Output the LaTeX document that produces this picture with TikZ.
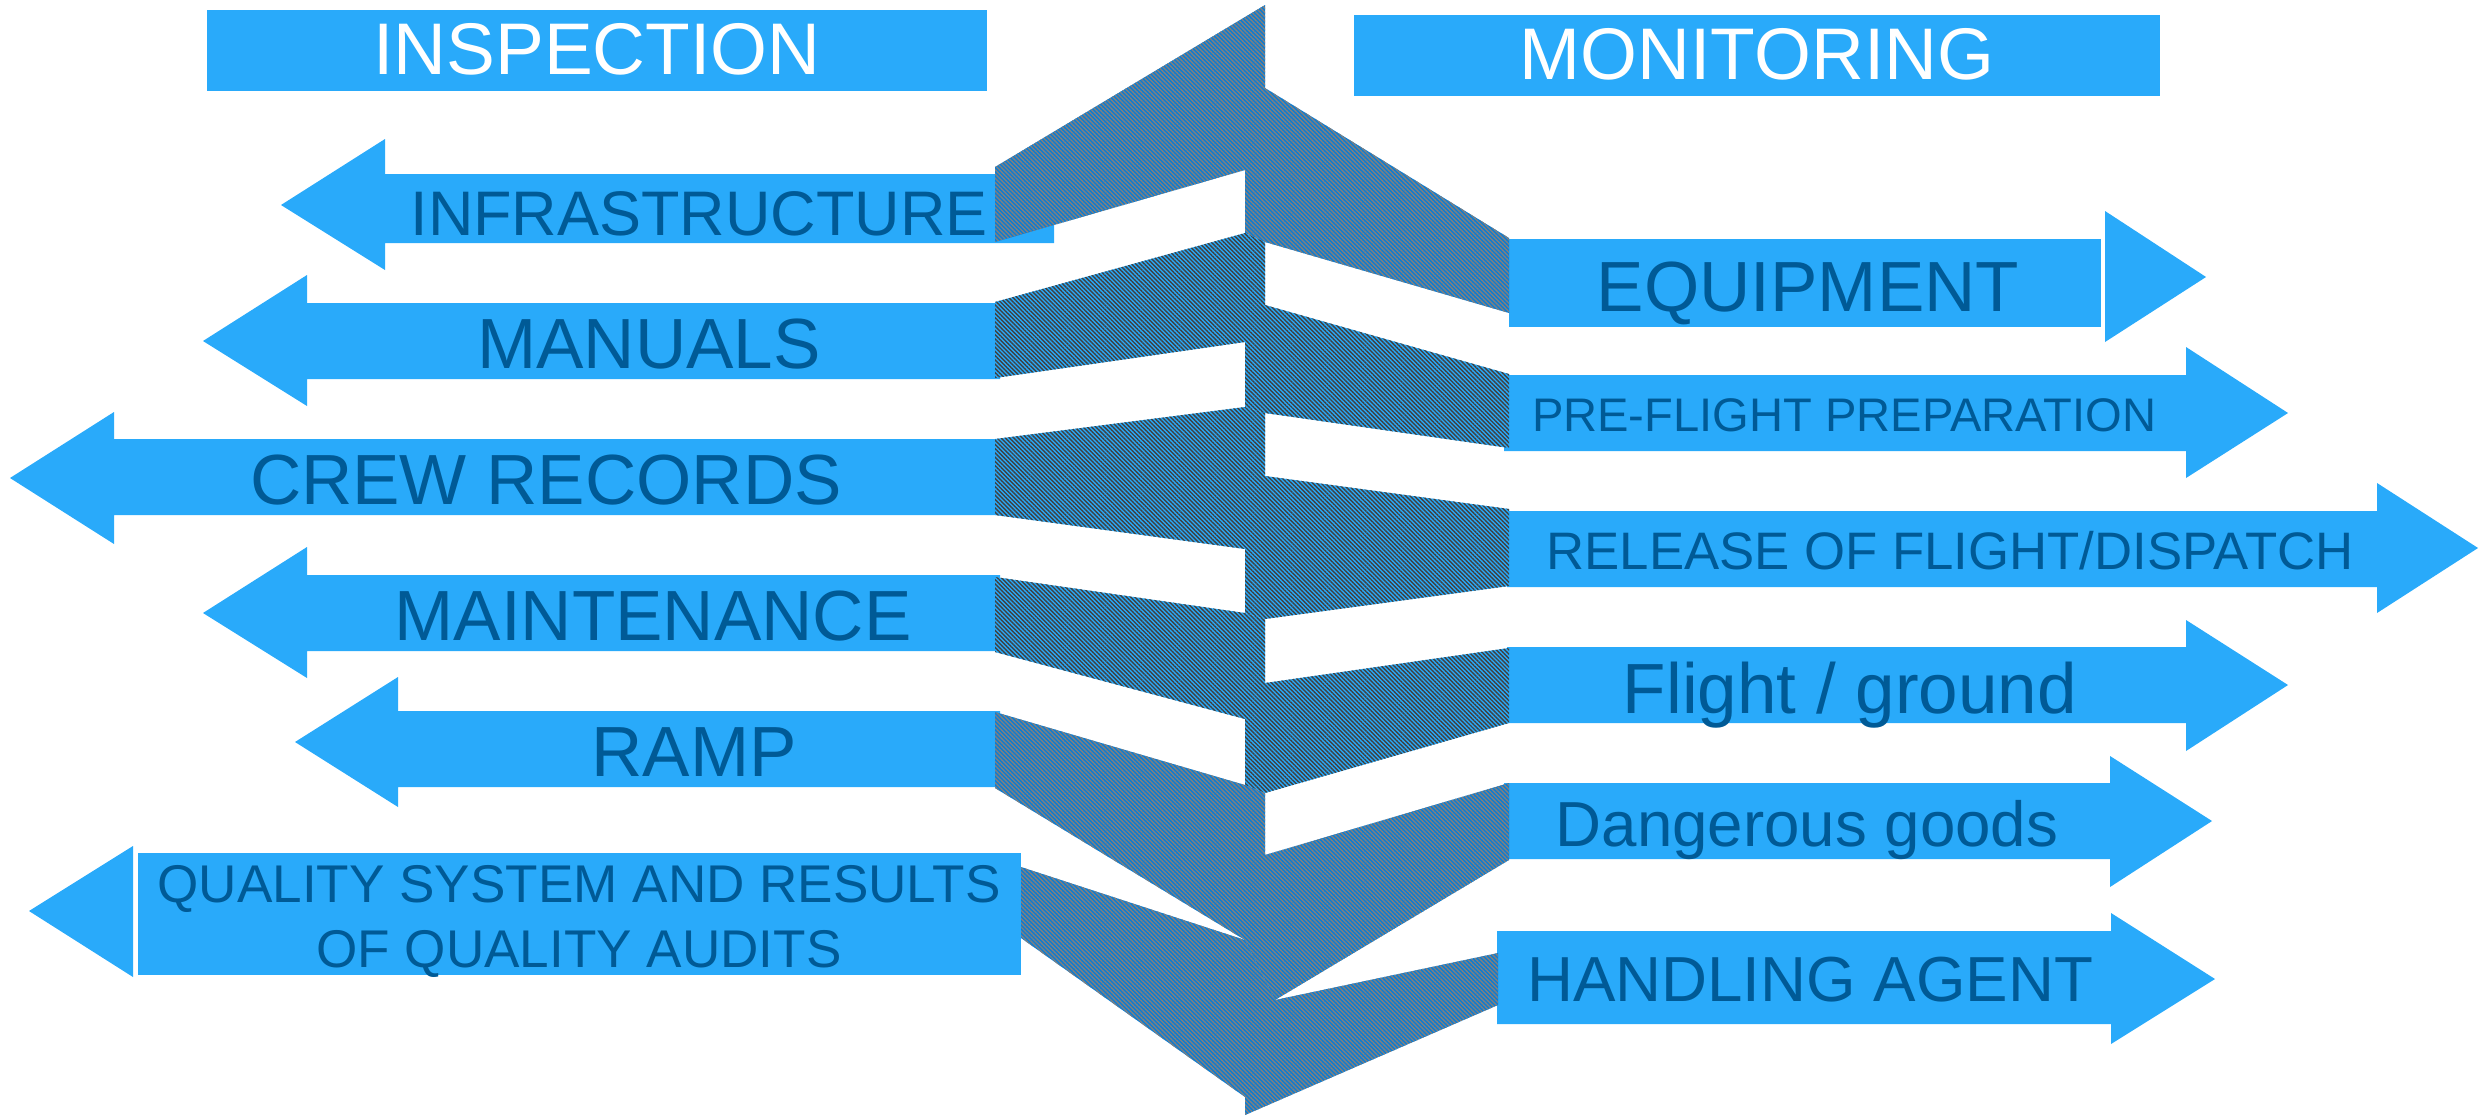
\documentclass[tikz,border=0pt]{standalone}
\usepackage{fontspec}
\setmainfont{Liberation Sans}
\usetikzlibrary{patterns.meta}
\definecolor{arrowblue}{RGB}{41,170,250}
\definecolor{txtblue}{RGB}{0,90,150}
\definecolor{hatchdark}{RGB}{64,64,64}
\definecolor{outerblue}{RGB}{10,124,212}
\definecolor{hatchgray}{RGB}{128,128,128}
\newcommand{\fsz}[1]{\fontsize{#1}{#1}\selectfont}
\begin{document}
\begin{tikzpicture}[x=0.01cm,y=-0.01cm,
  box/.style={fill=arrowblue},
  lbl/.style={text=txtblue, anchor=base, inner sep=0pt},
  ttl/.style={text=white, anchor=base, inner sep=0pt, font=\fsz{20.8pt}},
  innerband/.style={fill=arrowblue, postaction={pattern={Lines[angle=-45,distance=0.85pt,line width=0.4pt]}, pattern color=hatchdark}},
  outerband/.style={fill=outerblue, postaction={pattern={Lines[angle=-45,distance=0.85pt,line width=0.4pt]}, pattern color=hatchgray}},
]
\useasboundingbox (0,0) rectangle (2483,1115);

% title boxes
\fill[box] (207,10) rectangle (987,91);
\fill[box] (1354,15) rectangle (2160,96);
\node[ttl] (inspection) at (597,74) {INSPECTION};
\node[ttl] (monitoring) at (1757,79) {MONITORING};

% left arrows
\fill[box] (1054,174) -- (385,174) -- (385,139) -- (281,205) -- (385,270) -- (385,243) -- (1054,243) -- cycle;
\fill[box] (1000,303) -- (307,303) -- (307,275) -- (203,341) -- (307,406) -- (307,379) -- (1000,379) -- cycle;
\fill[box] (1000,439) -- (114,439) -- (114,412) -- (10,478) -- (114,544) -- (114,515) -- (1000,515) -- cycle;
\fill[box] (1000,575) -- (307,575) -- (307,547) -- (203,613) -- (307,678) -- (307,651) -- (1000,651) -- cycle;
\fill[box] (1000,711) -- (398,711) -- (398,677) -- (295,742) -- (398,807) -- (398,787) -- (1000,787) -- cycle;
\fill[box] (133,846) -- (29,911) -- (133,977) -- cycle;
\fill[box] (138,853) rectangle (1021,975);

% right arrows
\fill[box] (1509,239) rectangle (2101,327);
\fill[box] (2105,211) -- (2206,277) -- (2105,342) -- cycle;
\fill[box] (1504,375) -- (2186,375) -- (2186,347) -- (2288,413) -- (2186,478) -- (2186,451) -- (1504,451) -- cycle;
\fill[box] (1507,511) -- (2377,511) -- (2377,483) -- (2478,548) -- (2377,613) -- (2377,587) -- (1507,587) -- cycle;
\fill[box] (1507,647) -- (2186,647) -- (2186,620) -- (2288,685) -- (2186,751) -- (2186,723) -- (1507,723) -- cycle;
\fill[box] (1504,783) -- (2110,783) -- (2110,756) -- (2212,821) -- (2110,887) -- (2110,859) -- (1504,859) -- cycle;
\fill[box] (1497,931) -- (2111,931) -- (2111,913) -- (2215,979) -- (2111,1044) -- (2111,1024) -- (1497,1024) -- cycle;

% hatched bands
\path[outerband] (995,167) -- (1265,5) -- (1265,88) -- (1509,238) -- (1509,313) -- (1265,242) -- (1245,233) -- (1245,170) -- (995,242) -- cycle;
\path[innerband] (995,302) -- (1245,233) -- (1265,242) -- (1265,305) -- (1509,374) -- (1509,448) -- (1265,413) -- (1245,407) -- (1245,342) -- (995,378) -- cycle;
\path[innerband] (995,439) -- (1245,407) -- (1265,413) -- (1265,476) -- (1509,509) -- (1509,586) -- (1265,619) -- (1245,613) -- (1245,549) -- (995,515) -- cycle;
\path[innerband] (995,577) -- (1245,613) -- (1265,619) -- (1265,683) -- (1509,648) -- (1509,723) -- (1265,793) -- (1245,785) -- (1245,719) -- (995,652) -- cycle;
\path[outerband] (995,712) -- (1245,785) -- (1265,793) -- (1265,855) -- (1509,783) -- (1509,860) -- (1275,1000) -- (1245,940) -- (995,788) -- cycle;
\path[outerband] (1021,867) -- (1245,940) -- (1275,1000) -- (1498,953) -- (1498,1005) -- (1245,1115) -- (1245,1097) -- (1021,938) -- cycle;

% labels
\node[lbl, font=\fsz{17.9pt}] (infra) at (699,235) {INFRASTRUCTURE};
\node[lbl, font=\fsz{20.2pt}] (manuals) at (649,368) {MANUALS};
\node[lbl, font=\fsz{20.2pt}] (crew) at (546,504) {CREW RECORDS};
\node[lbl, font=\fsz{20.2pt}] (maint) at (653,640) {MAINTENANCE};
\node[lbl, font=\fsz{20.2pt}] (ramp) at (694,776) {RAMP};
\node[lbl, font=\fsz{15.1pt}] (qual1) at (579,902) {QUALITY SYSTEM AND RESULTS};
\node[lbl, font=\fsz{15.1pt}] (qual2) at (579,967) {OF QUALITY AUDITS};
\node[lbl, font=\fsz{20.2pt}] (equip) at (1808,311) {EQUIPMENT};
\node[lbl, font=\fsz{13.4pt}] (preflight) at (1844,431) {PRE-FLIGHT PREPARATION};
\node[lbl, font=\fsz{15pt}] (release) at (1950,569) {RELEASE OF FLIGHT/DISPATCH};
\node[lbl, font=\fsz{20.2pt}] (flight) at (1850,713) {Flight / ground};
\node[lbl, font=\fsz{18.1pt}] (danger) at (1807,846) {Dangerous goods};
\node[lbl, font=\fsz{18.1pt}] (handling) at (1810,1001) {HANDLING AGENT};
\end{tikzpicture}
\end{document}
